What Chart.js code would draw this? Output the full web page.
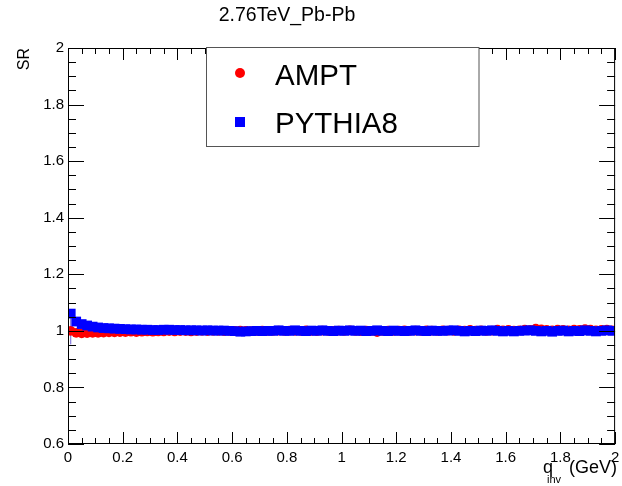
<!DOCTYPE html>
<html>
<head>
<meta charset="utf-8">
<script src="https://cdn.jsdelivr.net/npm/chart.js@4/dist/chart.umd.min.js"></script>
<style>
  body { margin: 0; background: #fff; }
</style>
</head>
<body>
<canvas id="sr" width="622" height="486"></canvas>
<script>
// bin centres (GeV)
const qinv = [
  0.01, 0.03, 0.05, 0.07, 0.09, 0.11, 0.13, 0.15, 0.17, 0.19,
  0.21, 0.23, 0.25, 0.27, 0.29, 0.31, 0.33, 0.35, 0.37, 0.39,
  0.41, 0.43, 0.45, 0.47, 0.49, 0.51, 0.53, 0.55, 0.57, 0.59,
  0.61, 0.63, 0.65, 0.67, 0.69, 0.71, 0.73, 0.75, 0.77, 0.79,
  0.81, 0.83, 0.85, 0.87, 0.89, 0.91, 0.93, 0.95, 0.97, 0.99,
  1.01, 1.03, 1.05, 1.07, 1.09, 1.11, 1.13, 1.15, 1.17, 1.19,
  1.21, 1.23, 1.25, 1.27, 1.29, 1.31, 1.33, 1.35, 1.37, 1.39,
  1.41, 1.43, 1.45, 1.47, 1.49, 1.51, 1.53, 1.55, 1.57, 1.59,
  1.61, 1.63, 1.65, 1.67, 1.69, 1.71, 1.73, 1.75, 1.77, 1.79,
  1.81, 1.83, 1.85, 1.87, 1.89, 1.91, 1.93, 1.95, 1.97, 1.99
];

const ampt = [
  1.000, 0.993, 0.991, 0.992, 0.993, 0.993, 0.994, 0.995, 0.995, 0.996,
  0.996, 0.997, 0.996, 0.997, 0.998, 0.997, 0.998, 0.998, 0.999, 0.998,
  0.999, 0.999, 0.998, 0.999, 1.000, 0.999, 1.000, 1.000, 0.999, 1.000,
  1.000, 1.001, 1.000, 0.999, 1.000, 1.001, 1.000, 1.000, 1.001, 1.000,
  1.001, 1.000, 1.000, 1.002, 1.000, 0.999, 1.001, 1.000, 1.000, 1.001,
  1.000, 1.002, 1.000, 0.999, 1.001, 1.000, 0.996, 1.000, 1.001, 1.000,
  1.001, 1.002, 1.000, 1.001, 1.000, 1.002, 1.001, 1.000, 1.002, 1.001,
  1.000, 1.002, 1.001, 1.003, 1.001, 1.002, 1.000, 1.001, 1.004, 1.002,
  1.003, 1.001, 1.002, 1.004, 1.003, 1.008, 1.005, 1.003, 1.002, 1.004,
  1.003, 1.002, 1.004, 1.003, 1.006, 1.004, 1.002, 1.003, 1.004, 1.002
];

const pythia8 = [
  1.061, 1.033, 1.024, 1.019, 1.015, 1.012, 1.010, 1.009, 1.008, 1.007,
  1.006, 1.005, 1.005, 1.004, 1.004, 1.003, 1.003, 1.004, 1.004, 1.003,
  1.003, 1.002, 1.002, 1.002, 1.001, 1.002, 1.001, 1.001, 1.001, 1.000,
  0.999, 0.997, 0.998, 0.999, 1.000, 0.999, 1.000, 1.000, 1.002, 1.000,
  1.000, 1.002, 1.000, 0.999, 1.001, 1.000, 1.002, 1.000, 0.999, 1.001,
  1.000, 1.002, 1.000, 1.001, 0.999, 1.000, 1.002, 1.000, 0.999, 1.001,
  1.000, 0.999, 1.000, 1.002, 1.000, 0.999, 1.001, 1.000, 1.000, 1.001,
  1.002, 1.000, 0.998, 1.000, 0.999, 1.001, 1.000, 1.002, 1.000, 0.998,
  1.000, 0.998, 1.000, 1.001, 1.002, 1.000, 0.998, 1.000, 0.997, 1.000,
  1.001, 0.998, 1.000, 0.999, 1.002, 1.000, 0.998, 1.000, 1.002, 1.000
];

// the one visible error bar (first AMPT bin)
const errQ = 0.01;
const errLow = 0.952;
const errHigh = 1.048;

const seriesNames = ["AMPT", "PYTHIA8"];
const titleText = "2.76TeV_Pb-Pb";

const FONT = "'Liberation Sans', Arial, Helvetica, sans-serif";

function pairs(xs, ys) {
  return xs.map((x, i) => ({ x: x, y: ys[i] }));
}

function fmt(v) {
  return String(Number(v.toFixed(1)));
}

// ROOT-like frame with inward ticks, title, axis titles and legend
const rootStyle = {
  id: "rootStyle",
  afterDraw(chart) {
    const ctx = chart.ctx;
    const a = chart.chartArea;
    const xs = chart.scales.x;
    const ys = chart.scales.y;
    ctx.save();
    ctx.strokeStyle = "#000";
    ctx.lineWidth = 1;
    ctx.strokeRect(a.left + 0.5, a.top + 0.5, a.right - a.left - 1, a.bottom - a.top - 1);

    ctx.beginPath();
    // x ticks, bottom and top
    for (let k = 0; k <= 40; k++) {
      const v = k * 0.05;
      const px = Math.round(xs.getPixelForValue(v)) + 0.5;
      const len = k % 4 === 0 ? 12 : 6;
      ctx.moveTo(px, a.bottom);
      ctx.lineTo(px, a.bottom - len);
      ctx.moveTo(px, a.top);
      ctx.lineTo(px, a.top + len);
    }
    // y ticks, left and right
    for (let k = 0; k <= 28; k++) {
      const v = 0.6 + k * 0.05;
      const py = Math.round(ys.getPixelForValue(v)) + 0.5;
      const len = k % 4 === 0 ? 16 : 8;
      ctx.moveTo(a.left, py);
      ctx.lineTo(a.left + len, py);
      ctx.moveTo(a.right, py);
      ctx.lineTo(a.right - len, py);
    }
    ctx.stroke();

    ctx.fillStyle = "#000";
    // title
    ctx.font = "19.5px " + FONT;
    ctx.textAlign = "center";
    ctx.textBaseline = "alphabetic";
    ctx.fillText(titleText, 287, 21);

    // y title
    ctx.save();
    ctx.translate(29, 48);
    ctx.rotate(-Math.PI / 2);
    ctx.font = "16px " + FONT;
    ctx.textAlign = "right";
    ctx.fillText("SR", 0, 0);
    ctx.restore();

    // x title
    ctx.textAlign = "right";
    ctx.font = "18px " + FONT;
    ctx.fillText("(GeV)", 617, 473);
    ctx.textAlign = "left";
    ctx.fillText("q", 543, 473);
    ctx.font = "11px " + FONT;
    ctx.fillText("inv", 547, 483);

    // legend
    ctx.fillStyle = "#fff";
    ctx.fillRect(206.5, 47.5, 272.5, 99);
    ctx.strokeStyle = "#555";
    ctx.strokeRect(206.5, 47.5, 272.5, 99);
    ctx.fillStyle = "#ff0000";
    ctx.beginPath();
    ctx.arc(240, 73, 5, 0, Math.PI * 2);
    ctx.fill();
    ctx.fillStyle = "#0000ff";
    ctx.fillRect(235, 117, 10, 10);
    ctx.fillStyle = "#000";
    ctx.font = "29.5px " + FONT;
    ctx.textAlign = "left";
    ctx.fillText(seriesNames[0], 275, 85);
    ctx.fillText(seriesNames[1], 275, 133);
    ctx.restore();
  }
};

const ctx = document.getElementById("sr").getContext("2d");

new Chart(ctx, {
  type: "scatter",
  data: {
    datasets: [
      {
        label: seriesNames[1],
        data: pairs(qinv, pythia8),
        pointStyle: "rect",
        pointRadius: 6.9,
        pointBackgroundColor: "#0000ff",
        pointBorderWidth: 0,
        order: 0,
      },
      {
        label: seriesNames[0],
        data: pairs(qinv, ampt),
        pointStyle: "circle",
        pointRadius: 4.9,
        pointBackgroundColor: "#ff0000",
        pointBorderWidth: 0,
        order: 1,
      },
      {
        type: "line",
        label: "err",
        data: [{ x: errQ, y: errLow }, { x: errQ, y: errHigh }],
        borderColor: "#6f63d8",
        borderWidth: 1,
        pointRadius: 0,
        order: 2,
      },
    ],
  },
  options: {
    responsive: false,
    animation: false,
    layout: { padding: { left: 0, top: 48, right: 3, bottom: 0 } },
    plugins: {
      legend: { display: false },
      tooltip: { enabled: false },
    },
    scales: {
      x: {
        type: "linear",
        min: 0,
        max: 2,
        afterFit: (s) => { s.height = 42; s.paddingLeft = 0; s.paddingRight = 0; },
        grid: { display: false, drawTicks: false },
        border: { display: false },
        ticks: {
          stepSize: 0.2,
          padding: 5,
          color: "#000",
          maxRotation: 0,
          autoSkip: false,
          font: { size: 15, family: FONT },
          callback: (v) => fmt(v),
        },
      },
      y: {
        type: "linear",
        min: 0.6,
        max: 2,
        afterFit: (s) => { s.width = 68; s.paddingTop = 0; s.paddingBottom = 0; },
        grid: { display: false, drawTicks: false },
        border: { display: false },
        ticks: {
          stepSize: 0.2,
          padding: 4,
          color: "#000",
          autoSkip: false,
          font: { size: 15, family: FONT },
          callback: (v) => fmt(v),
        },
      },
    },
  },
  plugins: [rootStyle],
});
</script>
</body>
</html>
